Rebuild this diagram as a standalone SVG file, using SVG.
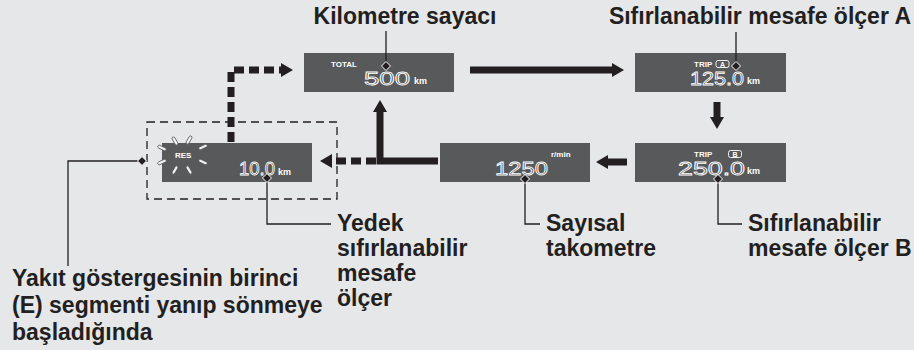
<svg xmlns="http://www.w3.org/2000/svg" width="914" height="350" viewBox="0 0 914 350">
<style>
.bg{fill:#e6e7e9}
.panel{fill:#58595b}
.lbl{font-family:"Liberation Sans",Arial,sans-serif;font-weight:700;font-size:23px;fill:#231f20}
.sm{font-family:"Liberation Sans",Arial,sans-serif;font-weight:700;fill:#ffffff}
.seg{font-family:"Liberation Sans",Arial,sans-serif;font-size:19px;fill:none;stroke:#ffffff;stroke-width:0.8}
.thick{fill:none;stroke:#231f20;stroke-width:7}
.dash{fill:none;stroke:#231f20;stroke-width:7;stroke-dasharray:10 5}
.call{fill:none;stroke:#231f20;stroke-width:1.3}
.dia{fill:#231f20;stroke:#ffffff;stroke-width:1}
.ray{fill:#f2f2f2;stroke:#58595b;stroke-width:0.8}
.box{fill:none;stroke:#ffffff;stroke-width:0.9}
</style>
<defs>
<marker id="ah" markerUnits="userSpaceOnUse" markerWidth="12" markerHeight="14" refX="0" refY="7" orient="auto" viewBox="0 0 12 14">
<path d="M0,0 L12,7 L0,14 z" fill="#231f20"/>
</marker>
<path id="dm" d="M0,-4.5 L4.5,0 L0,4.5 L-4.5,0 z"/>
</defs>
<rect class="bg" x="0" y="0" width="914" height="350"/>

<g id="connectors">
<path class="thick" d="M470,70 H612" marker-end="url(#ah)"/>
<path class="thick" d="M717,102 V117" marker-end="url(#ah)"/>
<path class="thick" d="M627,162 H608" marker-end="url(#ah)"/>
<path class="thick" d="M438,161 H380 V112" marker-end="url(#ah)"/>
<path class="dash" d="M376,161 H332" marker-end="url(#ah)"/>
<path class="dash" d="M231,142 V70 H281" marker-end="url(#ah)"/>
</g>

<g id="res-group">
<rect x="147" y="122" width="190" height="77" fill="none" stroke="#231f20" stroke-width="1.3" stroke-dasharray="8 5"/>
</g>

<g id="odometer">
<rect class="panel" x="304" y="53" width="150" height="39"/>
<text class="sm" x="331" y="67" font-size="8">TOTAL</text>
<text class="seg" x="364" y="85" textLength="46" lengthAdjust="spacingAndGlyphs">500</text>
<text class="sm" x="414" y="84" font-size="9">km</text>
</g>

<g id="tripA">
<rect class="panel" x="635" y="53" width="151" height="39"/>
<text class="sm" x="694" y="67" font-size="8">TRIP</text>
<rect class="box" x="716" y="60.5" width="13" height="7" rx="2"/>
<text class="sm" x="722.5" y="66.5" font-size="7" text-anchor="middle">A</text>
<text class="seg" x="690" y="85" textLength="54" lengthAdjust="spacingAndGlyphs">125.0</text>
<text class="sm" x="747" y="84" font-size="9">km</text>
</g>

<g id="tripB">
<rect class="panel" x="635" y="143" width="151" height="39"/>
<text class="sm" x="694" y="157" font-size="8">TRIP</text>
<rect class="box" x="728.5" y="150.5" width="13" height="7" rx="2"/>
<text class="sm" x="735" y="156.5" font-size="7" text-anchor="middle">B</text>
<text class="seg" x="678" y="175" textLength="67" lengthAdjust="spacingAndGlyphs">250.0</text>
<text class="sm" x="747" y="174" font-size="9">km</text>
</g>

<g id="tacho">
<rect class="panel" x="440" y="143" width="150" height="39"/>
<text class="sm" x="551" y="157" font-size="8">r/min</text>
<text class="seg" x="495" y="175" textLength="53" lengthAdjust="spacingAndGlyphs">1250</text>
</g>

<g id="reserve">
<rect class="panel" x="162" y="143" width="150" height="39"/>
<text class="sm" x="175" y="158" font-size="8">RES</text>
<g class="ray">
<rect x="-4.5" y="-1.5" width="9" height="3" rx="1.5" transform="translate(175,141) rotate(60)"/>
<rect x="-4.5" y="-1.5" width="9" height="3" rx="1.5" transform="translate(189,140) rotate(-60)"/>
<rect x="-4.5" y="-1.5" width="9" height="3" rx="1.5" transform="translate(203,147) rotate(-25)"/>
<rect x="-4.5" y="-1.5" width="9" height="3" rx="1.5" transform="translate(162,148) rotate(25)"/>
<rect x="-4.5" y="-1.5" width="9" height="3" rx="1.5" transform="translate(162,162) rotate(-25)"/>
<rect x="-4.5" y="-1.5" width="9" height="3" rx="1.5" transform="translate(203,162) rotate(25)"/>
<rect x="-4.5" y="-1.5" width="9" height="3" rx="1.5" transform="translate(175,170) rotate(-60)"/>
<rect x="-4.5" y="-1.5" width="9" height="3" rx="1.5" transform="translate(189,170) rotate(60)"/>
</g>
<text class="seg" x="239" y="175" textLength="36" lengthAdjust="spacingAndGlyphs">10.0</text>
<text class="sm" x="278" y="175" font-size="9">km</text>
</g>

<g id="callouts">
<path class="call" d="M386,31 V66"/>
<use href="#dm" class="dia" x="386" y="66"/>
<path class="call" d="M736,32 V66"/>
<use href="#dm" class="dia" x="736" y="66"/>
<path class="call" d="M718,179 V224 H742"/>
<use href="#dm" class="dia" x="718" y="179"/>
<path class="call" d="M525,179 V224 H540"/>
<use href="#dm" class="dia" x="525" y="179"/>
<path class="call" d="M267,178 V224 H331"/>
<use href="#dm" class="dia" x="267" y="178"/>
<path class="call" d="M142,161 H68 V266"/>
<use href="#dm" class="dia" x="142" y="161"/>
</g>

<g id="labels">
<text class="lbl" x="405" y="24" text-anchor="middle">Kilometre sayacı</text>
<text class="lbl" x="911" y="24" text-anchor="end">Sıfırlanabilir mesafe ölçer A</text>
<text class="lbl" x="748"><tspan x="748" y="231">Sıfırlanabilir</tspan><tspan x="748" y="256">mesafe ölçer B</tspan></text>
<text class="lbl" x="546"><tspan x="546" y="231">Sayısal</tspan><tspan x="546" y="256">takometre</tspan></text>
<text class="lbl" x="337"><tspan x="337" y="231">Yedek</tspan><tspan x="337" y="256">sıfırlanabilir</tspan><tspan x="337" y="281">mesafe</tspan><tspan x="337" y="306">ölçer</tspan></text>
<text class="lbl" x="12"><tspan x="12" y="286">Yakıt göstergesinin birinci</tspan><tspan x="12" y="313">(E) segmenti yanıp sönmeye</tspan><tspan x="12" y="340">başladığında</tspan></text>
</g>
</svg>
